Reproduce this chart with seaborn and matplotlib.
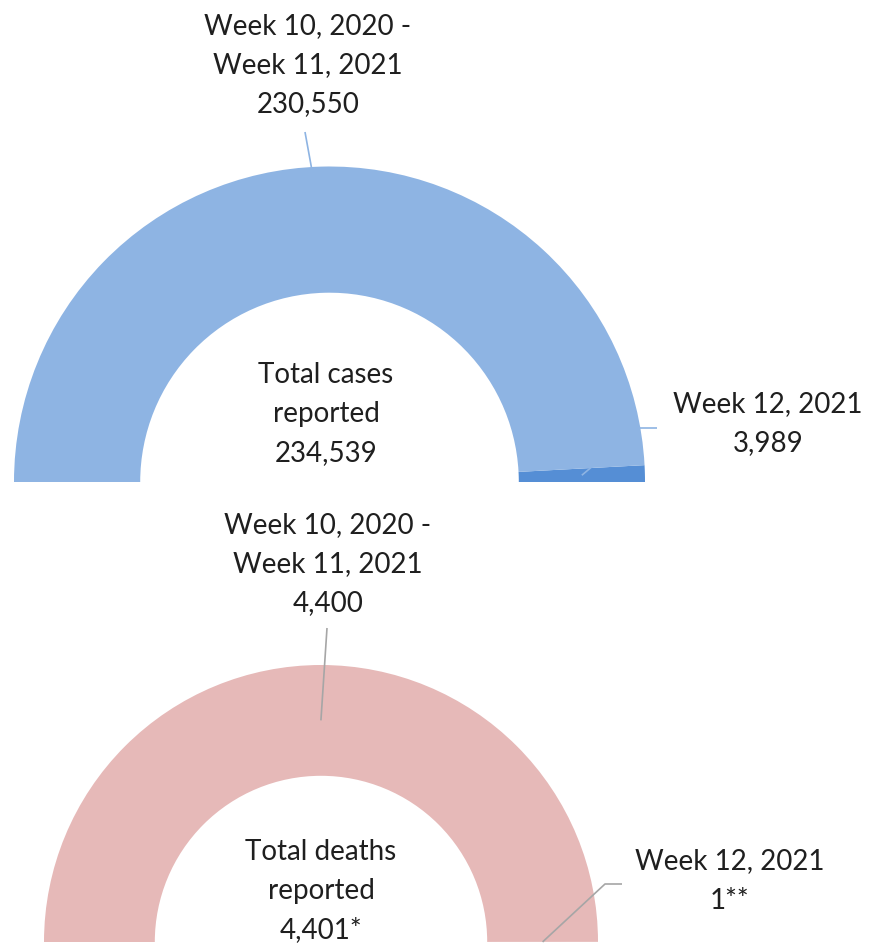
import numpy as np
import seaborn as sns
import matplotlib
matplotlib.use("Agg")
import matplotlib.pyplot as plt

# data
periods = ["Week 12, 2021", "Week 10, 2020 -\nWeek 11, 2021"]
cases = [3989, 230550]
deaths = [1, 4400]
case_total = 234539
death_total = 4401
case_labels = ["Week 12, 2021\n3,989", "Week 10, 2020 -\nWeek 11, 2021\n230,550"]
death_labels = ["Week 12, 2021\n1**", "Week 10, 2020 -\nWeek 11, 2021\n4,400"]
case_center = "Total cases\nreported\n234,539"
death_center = "Total deaths\nreported\n4,401*"

sns.set_theme(style="white")
plt.rcParams['font.family'] = ['Lato', 'DejaVu Sans']

W, H = 874, 944
fig = plt.figure(figsize=(W / 100, H / 100), dpi=100)
ax = fig.add_axes([0, 0, 1, 1])

txt = '#1f1f1f'


def half_donut(vals, total, colors, center, R, line_col, labels, label_pos, elbows,
               ctext, cpos):
    # hidden half below the horizontal
    wedges, _ = ax.pie(vals + [total], colors=colors + ['white'], startangle=0,
                       counterclock=True, center=center, radius=R,
                       wedgeprops=dict(width=0.4 * R, linewidth=0))
    wedges[-1].set_visible(False)
    rm = 0.8 * R
    for w, lab, pos, elb in zip(wedges[:-1], labels, label_pos, elbows):
        mid = np.deg2rad((w.theta1 + w.theta2) / 2)
        ax0 = center[0] + rm * np.cos(mid)
        ay0 = center[1] + rm * np.sin(mid)
        xs = [ax0] + [p[0] for p in elb]
        ys = [ay0] + [p[1] for p in elb]
        ax.plot(xs, ys, color=line_col, lw=1.2, solid_capstyle='butt')
        ax.text(pos[0], pos[1], lab, ha='center', va='center', fontsize=20,
                color=txt, linespacing=1.62)
    ax.text(cpos[0], cpos[1], ctext, ha='center', va='center',
            fontsize=20, color=txt, linespacing=1.62)


# top chart (cases)
half_donut(cases, case_total, ['#558ED5', '#8EB4E3'], (329.5, H - 482), 315.5,
           '#8EB4E3', case_labels,
           [(768, H - 424), (308, H - 65)],
           [[(638, H - 428), (657, H - 428)], [(305, H - 132)]],
           case_center, (326, H - 414))

# bottom chart (deaths)
half_donut(deaths, death_total, ['#D99694', '#E6B9B8'], (321, H - 942), 277,
           '#A6A6A6', death_labels,
           [(730, H - 881), (328, H - 564)],
           [[(605, H - 884), (622, H - 884)], [(327, H - 628)]],
           death_center, (321, H - 891))

ax.set_xlim(0, W)
ax.set_ylim(0, H)
ax.set_aspect('equal')
ax.axis('off')

plt.savefig('out.png', dpi=100)
